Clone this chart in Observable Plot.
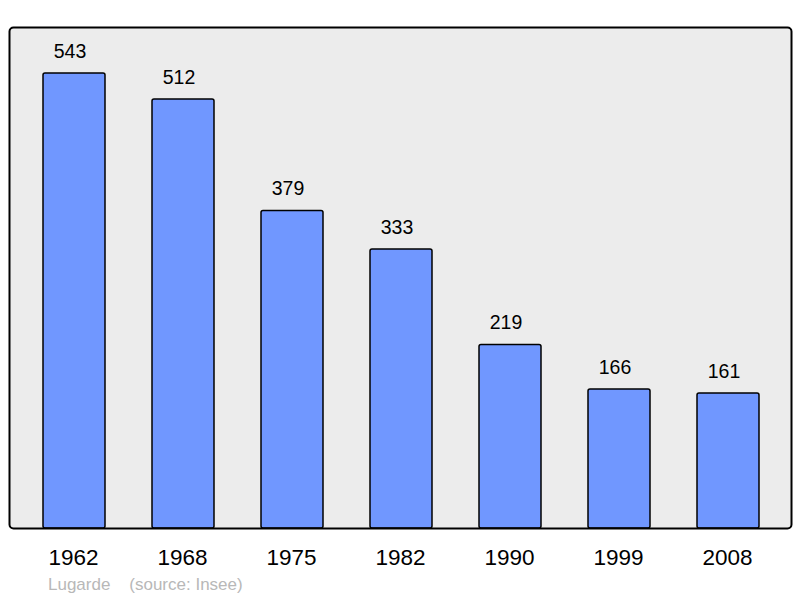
<!DOCTYPE html>
<html>
<head>
<meta charset="utf-8">
<script src="https://cdn.jsdelivr.net/npm/d3@7"></script>
<script src="https://cdn.jsdelivr.net/npm/@observablehq/plot@0.6"></script>
<style>
  html, body { margin: 0; padding: 0; background: #fff; }
  #caption { font-family: "Liberation Sans", Arial, sans-serif; font-size: 17px; color: #b8b8b8; height: 26px; line-height: 25px; padding-left: 48px; white-space: pre; }
</style>
</head>
<body>
<div id="chart"></div>
<div id="caption">Lugarde    (source: Insee)</div>
<script>
const years = ["1962", "1968", "1975", "1982", "1990", "1999", "2008"];
const population = [543, 512, 379, 333, 219, 166, 161];

const data = years.map((y, i) => ({year: y, value: population[i]}));

const chart = Plot.plot({
  width: 800,
  height: 572,
  marginTop: 27,
  marginBottom: 44,
  marginLeft: 9,
  marginRight: 9,
  style: {fontFamily: "'Liberation Sans', Arial, sans-serif", background: "#fff"},
  x: {domain: years, range: [18, 784], paddingInner: 0.43, paddingOuter: 0.215, axis: null},
  y: {domain: [0, 598], axis: null},
  marks: [
    Plot.frame({fill: "#ececec", stroke: null, rx: 4}),
    Plot.barY(data, {x: "year", y: "value", fill: "#7097ff", stroke: "#000", strokeWidth: 1.5, rx: 2}),
    Plot.text(data, {x: "year", y: "value", text: d => String(d.value), dy: -22, dx: -4.5, fontSize: 19.5, fill: "#000"}),
    Plot.axisX({tickSize: 0, tickPadding: 21, fontSize: 22.5, dx: -1, label: null, color: "#000"}),
    Plot.frame({fill: null, stroke: "#000", strokeWidth: 2, rx: 4})
  ]
});
document.getElementById("chart").appendChild(chart);
</script>
</body>
</html>
